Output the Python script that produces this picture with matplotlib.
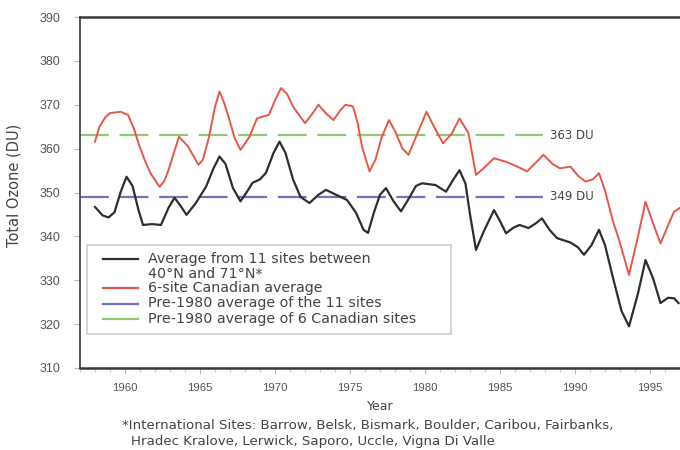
import matplotlib
matplotlib.use("Agg")
import matplotlib.pyplot as plt
from matplotlib.lines import Line2D
from matplotlib.patches import Rectangle
from matplotlib.ticker import MultipleLocator

plt.rcParams['font.family'] = ['Liberation Sans', 'DejaVu Sans']
WIDE = ['DejaVu Sans']

# Average of 11 international sites between 40N and 71N
years_intl = [1958.0, 1958.5, 1958.9, 1959.3, 1959.7, 1960.1, 1960.5, 1960.9, 1961.2, 1961.8,
              1962.4, 1962.9, 1963.3, 1963.7, 1964.1, 1964.7, 1965.4, 1965.9, 1966.3, 1966.7,
              1967.2, 1967.7, 1968.1, 1968.5, 1969.0, 1969.4, 1969.9, 1970.3, 1970.7, 1971.2,
              1971.7, 1972.3, 1972.9, 1973.4, 1974.0, 1974.8, 1975.4, 1975.9, 1976.2, 1976.6,
              1977.0, 1977.4, 1977.9, 1978.4, 1978.9, 1979.4, 1979.8, 1980.7, 1981.4, 1981.9,
              1982.3, 1982.7, 1983.0, 1983.4, 1983.9, 1984.6, 1985.0, 1985.4, 1985.9, 1986.3,
              1986.9, 1987.4, 1987.8, 1988.3, 1988.8, 1989.7, 1990.2, 1990.6, 1991.1, 1991.6,
              1992.0, 1992.5, 1993.1, 1993.6, 1994.2, 1994.7, 1995.2, 1995.7, 1996.2, 1996.6,
              1996.9]
ozone_intl = [346.7, 344.8, 344.3, 345.5, 350.0, 353.6, 351.5, 346.0, 342.6, 342.8,
              342.6, 346.5, 348.8, 347.0, 344.9, 347.5, 351.3, 355.5, 358.2, 356.5,
              351.0, 348.0, 350.0, 352.2, 353.0, 354.5, 359.0, 361.6, 359.0, 353.0,
              349.0, 347.6, 349.5, 350.6, 349.6, 348.3, 345.4, 341.5, 340.8, 345.5,
              349.5, 351.0, 348.0, 345.7, 348.5, 351.5, 352.1, 351.7, 350.2, 353.0,
              355.1, 352.0, 345.0, 336.9, 341.0, 346.0, 343.5, 340.7, 342.0, 342.6,
              341.9, 343.0, 344.1, 341.5, 339.6, 338.6, 337.5, 335.8, 338.0, 341.5,
              338.0, 331.0, 323.0, 319.5, 327.0, 334.6, 330.5, 324.8, 326.0, 325.9,
              324.8]

# 6-site Canadian average
years_can = [1958.0, 1958.3, 1958.7, 1959.0, 1959.7, 1960.2, 1960.6, 1960.9, 1961.3, 1961.7,
             1962.3, 1962.6, 1962.9, 1963.3, 1963.6, 1964.2, 1964.9, 1965.2, 1965.6, 1966.0,
             1966.3, 1966.6, 1966.9, 1967.3, 1967.7, 1968.3, 1968.8, 1969.6, 1970.0, 1970.4,
             1970.8, 1971.2, 1972.0, 1972.5, 1972.9, 1973.4, 1973.9, 1974.3, 1974.7, 1975.2,
             1975.5, 1975.8, 1976.3, 1976.7, 1977.1, 1977.6, 1978.0, 1978.5, 1978.9, 1979.5,
             1980.1, 1980.6, 1981.2, 1981.8, 1982.3, 1982.9, 1983.4, 1983.9, 1984.6, 1985.4,
             1986.1, 1986.8, 1987.3, 1987.9, 1988.5, 1989.0, 1989.7, 1990.2, 1990.7, 1991.2,
             1991.6, 1992.0, 1992.5, 1993.0, 1993.6, 1994.2, 1994.7, 1995.2, 1995.7, 1996.2,
             1996.6, 1997.0]
ozone_can = [361.6, 365.0, 367.2, 368.1, 368.4, 367.7, 364.5, 361.2, 357.5, 354.4,
             351.3, 352.5, 355.1, 359.5, 362.7, 360.5, 356.3, 357.5, 362.7, 369.5,
             373.0, 370.5, 367.3, 362.5, 359.7, 362.7, 366.9, 367.7, 371.0, 373.8,
             372.5, 369.6, 365.8, 368.0, 370.0, 368.0, 366.5, 368.5, 370.0, 369.6,
             366.0, 360.5, 354.8, 357.5, 362.5, 366.5, 364.0, 360.0, 358.6, 363.5,
             368.4, 365.0, 361.2, 363.5, 366.9, 363.5, 354.0, 355.5, 357.8, 357.0,
             356.0, 354.8, 356.5, 358.6, 356.5, 355.5, 355.9, 353.8, 352.5, 353.0,
             354.4, 350.5, 343.8, 338.5, 331.2, 340.0, 347.9, 343.0, 338.4, 342.5,
             345.6, 346.5]

# Pre-1980 reference levels and the span of years they are drawn over
ref_years = [1957.0, 1987.9]
pre1980_intl = 349
pre1980_can = 363

legend_labels = [["Average from 11 sites between", "40°N and 71°N*"],
                 ["6-site Canadian average"],
                 ["Pre-1980 average of the 11 sites"],
                 ["Pre-1980 average of 6 Canadian sites"]]
footnote = ["*International Sites: Barrow, Belsk, Bismark, Boulder, Caribou, Fairbanks,",
            "Hradec Kralove, Lerwick, Saporo, Uccle, Vigna Di Valle"]

c_black = "#2e2e2e"
c_red = "#e5574a"
c_blue = "#7373bd"
c_green = "#92c978"
c_text = "#444444"

fig = plt.figure(figsize=(6.8, 4.5), dpi=100)
W, H = 680, 450
ax_l, ax_r, ax_t, ax_b = 80, 680, 17, 368
ax = fig.add_axes([ax_l / W, 1 - ax_b / H, (ax_r - ax_l) / W, (ax_b - ax_t) / H])

dash = (13, 4.8)
ax.plot(ref_years, [pre1980_can] * 2, color=c_green, lw=1.6, dashes=dash)
ax.plot(ref_years, [pre1980_intl] * 2, color=c_blue, lw=1.6, dashes=dash)
ax.plot(years_can, ozone_can, color=c_red, lw=1.4, solid_joinstyle='round')
ax.plot(years_intl, ozone_intl, color=c_black, lw=1.6, solid_joinstyle='round')

for level in (pre1980_can, pre1980_intl):
    ax.text(ref_years[1] + 0.45, level, f"{level} DU", va='center', ha='left',
            fontsize=8.5, color=c_text, family=WIDE)

ax.set_xlim(1957, 1997)
ax.set_ylim(310, 390)
ax.xaxis.set_minor_locator(MultipleLocator(1))
ax.yaxis.set_major_locator(MultipleLocator(10))
ax.set_xticks([1960, 1965, 1970, 1975, 1980, 1985, 1990, 1995])

for side in ('top', 'bottom', 'left'):
    ax.spines[side].set_color("#3a3a3a")
ax.spines['top'].set_linewidth(1.8)
ax.spines['bottom'].set_linewidth(1.8)
ax.spines['left'].set_linewidth(1.2)
ax.spines['right'].set_visible(False)

ax.tick_params(axis='both', which='major', direction='out', length=4, width=0.8,
               color="#bbbbbb", labelcolor="#555555")
ax.tick_params(axis='x', which='major', labelsize=8.2, pad=7)
ax.tick_params(axis='y', which='major', labelsize=9, pad=10)
ax.tick_params(axis='x', which='minor', direction='out', length=3, width=0.8, color="#cccccc")

ax.set_xlabel("Year", fontsize=9, color=c_text, labelpad=5, family=WIDE)
ax.set_ylabel("Total Ozone (DU)", fontsize=10.5, color=c_text, family=WIDE)
ax.yaxis.set_label_coords(-0.097, 0.52)

# Legend drawn as a framed block in axes coordinates
def ay(py):
    return (ax_b - py) / (ax_b - ax_t)

def axx(px):
    return (px - ax_l) / (ax_r - ax_l)

ax.add_patch(Rectangle((axx(87), ay(334)), axx(451) - axx(87), ay(245) - ay(334),
                       transform=ax.transAxes, facecolor='white', edgecolor="#d0d0d0",
                       lw=1.2, zorder=5))
row_y = [[259, 273.5], [288], [303.5], [318.5]]
colors = [c_black, c_red, c_blue, c_green]
for ys, lines, col in zip(row_y, legend_labels, colors):
    ax.add_line(Line2D([axx(103), axx(138)], [ay(ys[0])] * 2, transform=ax.transAxes,
                       color=col, lw=1.6, zorder=6))
    for py, txt in zip(ys, lines):
        ax.text(axx(148), ay(py), txt, transform=ax.transAxes, va='center', ha='left',
                fontsize=10.3, color=c_text, zorder=6, family=WIDE)

fig.text(122 / W, 1 - 426 / H, footnote[0], fontsize=9.6, color=c_text, va='center',
         ha='left', family=WIDE)
fig.text(131 / W, 1 - 441 / H, footnote[1], fontsize=9.6, color=c_text, va='center',
         ha='left', family=WIDE)

fig.savefig("out.png", dpi=100)
